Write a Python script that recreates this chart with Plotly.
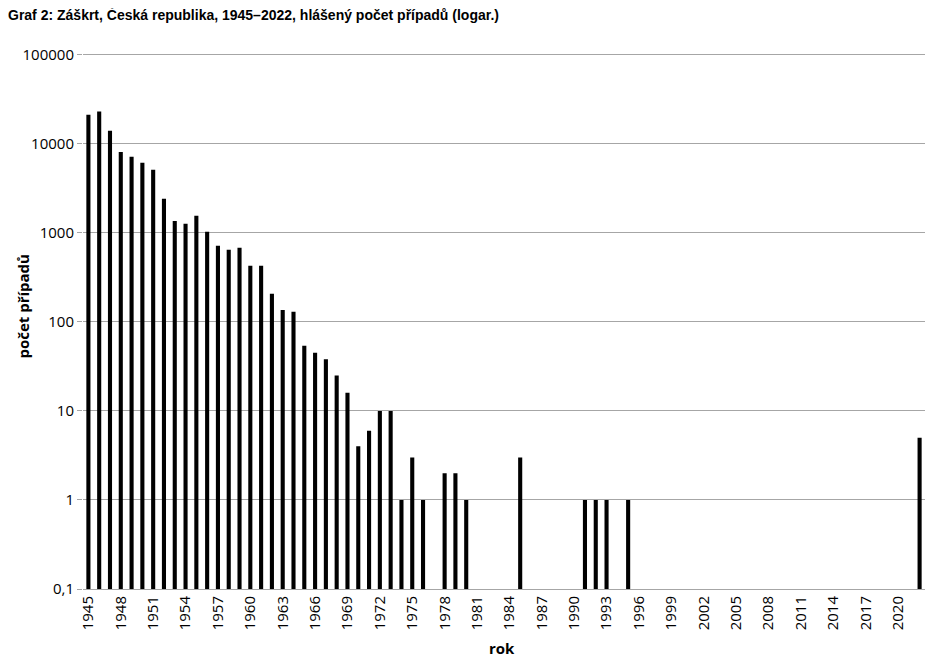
import plotly.graph_objects as go

# roky 1945-2022
roky = list(range(1945, 2023))

# hlášený počet případů (0 = žádný případ)
pripady = [
    21200, 23000, 14000, 8100, 7150, 6100, 5100, 2410, 1360, 1260,   # 1945-1954
    1550, 1030, 715, 645, 680, 425, 425, 207, 136, 130,              # 1955-1964
    54, 45, 38, 25, 16, 4, 6, 10, 10, 1,                             # 1965-1974
    3, 1, 0, 2, 2, 1, 0, 0, 0, 0,                                    # 1975-1984
    3, 0, 0, 0, 0, 0, 1, 1, 1, 0,                                    # 1985-1994
    1, 0, 0, 0, 0, 0, 0, 0, 0, 0,                                    # 1995-2004
    0, 0, 0, 0, 0, 0, 0, 0, 0, 0,                                    # 2005-2014
    0, 0, 0, 0, 0, 0, 0, 5,                                          # 2015-2022
]

y_ticks = [0.1, 1, 10, 100, 1000, 10000, 100000]
y_labels = ["0,1", "1", "10", "100", "1000", "10000", "100000"]

# nuly nejdou na log. ose -> None
hodnoty = [v if v > 0 else None for v in pripady]

fig = go.Figure()
fig.add_trace(go.Bar(x=roky, y=hodnoty, width=0.38,
                     marker=dict(color="black", line=dict(width=0))))

# popisky os jako anotace (pevná pozice)
fig.add_annotation(text="<b>počet případů</b>", xref="paper", yref="paper",
                   x=-0.0724, y=0.526, xanchor="center", yanchor="middle",
                   textangle=-90, showarrow=False, font=dict(size=15))
fig.add_annotation(text="<b>rok</b>", xref="paper", yref="paper",
                   x=0.4976, y=-0.110, xanchor="center", yanchor="middle",
                   showarrow=False, font=dict(size=15))

# stránka má okraj 8 px -> figura o 8 px menší
fig.update_layout(
    width=925, height=652,
    margin=dict(l=75, r=8, t=44, b=71),
    paper_bgcolor="white", plot_bgcolor="white",
    showlegend=False,
    font=dict(family="Open Sans, Noto Sans, sans-serif", size=15, color="black"),
    title=dict(text="<b>Graf 2: Záškrt, Česká republika, 1945–2022, hlášený počet případů (logar.)</b>",
               x=0.0, xanchor="left", y=0.989, yanchor="middle",
               font=dict(family="Liberation Sans, Arial, sans-serif", size=14)),
    xaxis=dict(
        range=[1944.5, 2022.5],
        tickmode="array",
        tickvals=list(range(1945, 2023, 3)),
        tickangle=-90,
        showgrid=False,
        showline=True, linecolor="#a6a6a6", linewidth=1,
        ticks="",
        automargin=False,
    ),
    yaxis=dict(
        type="log",
        range=[-1, 5.03],
        tickmode="array",
        tickvals=y_ticks,
        ticktext=y_labels,
        showgrid=True, gridcolor="#a6a6a6", gridwidth=1,
        zeroline=False, showline=False,
        ticks="outside", ticklen=5, tickcolor="#a6a6a6",
        automargin=False,
    ),
)

fig.write_html("out.html")
